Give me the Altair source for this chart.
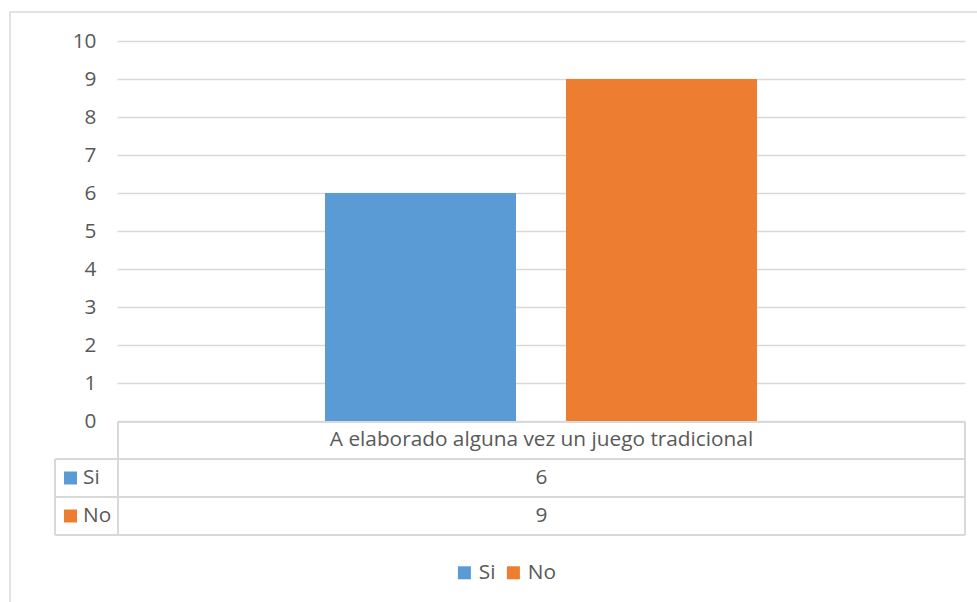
import altair as alt
import pandas as pd

series = ["Si", "No"]
values = [6, 9]
colors = ["#5B9BD5", "#ED7D31"]
category_label = "A elaborado alguna vez un juego tradicional"
y_ticks = list(range(0, 11))

df = pd.DataFrame({"serie": series, "valor": values})
one = pd.DataFrame({"k": [0]})

FONT = "Open Sans"
FS = 20.8
TXT = "#595959"
LINE = "#d9d9d9"
W, H = 848, 380

bars = alt.Chart(df).mark_bar().encode(
    x=alt.X("serie:N", sort=series,
            scale=alt.Scale(paddingInner=0.2075, paddingOuter=0.863), axis=None),
    y=alt.Y("valor:Q", scale=alt.Scale(domain=[0, 10], nice=False),
            axis=alt.Axis(values=y_ticks, grid=True, gridColor=LINE, gridWidth=1.5,
                          domain=False, ticks=False, labelPadding=21,
                          labelFontSize=FS, labelFont=FONT, labelColor=TXT, title=None)),
    color=alt.Color("serie:N", scale=alt.Scale(domain=series, range=colors),
                    legend=alt.Legend(orient="none", legendX=337, legendY=521,
                                      direction="horizontal", title=None,
                                      symbolType="square", symbolSize=169,
                                      symbolStrokeWidth=0, labelFont=FONT,
                                      labelFontSize=FS, labelColor=TXT,
                                      columnPadding=7, padding=0)),
)

layers = [bars]

def hrule(x1, x2, y):
    return alt.Chart(one).mark_rule(color=LINE, strokeWidth=2).encode(
        x=alt.value(x1), x2=alt.value(x2), y=alt.value(y))

def vrule(x, y1, y2):
    return alt.Chart(one).mark_rule(color=LINE, strokeWidth=2).encode(
        x=alt.value(x), y=alt.value(y1), y2=alt.value(y2))

layers += [
    hrule(1, W, H + 1),
    hrule(-62, W, 418),
    hrule(-62, W, 456),
    hrule(-62, W, 494),
    vrule(1, H + 1, 494),
    vrule(-62, 418, 494),
    vrule(W, H + 1, 494),
]

layers.append(
    alt.Chart(one).mark_text(font=FONT, fontSize=FS, color=TXT, align="center",
                             baseline="middle").encode(
        x=alt.value(W / 2 + 0.5), y=alt.value(399), text=alt.value(category_label))
)

row_y = [437, 475]
for s, c, ry in zip(series, colors, row_y):
    sub = alt.Chart(df).transform_filter(alt.datum.serie == s)
    layers.append(sub.mark_text(font=FONT, fontSize=FS, color=TXT, align="center",
                                baseline="middle").encode(
        x=alt.value(W / 2 + 0.5), y=alt.value(ry), text="valor:Q"))
    layers.append(sub.mark_text(font=FONT, fontSize=FS, color=TXT, align="left",
                                baseline="middle").encode(
        x=alt.value(-34), y=alt.value(ry), text="serie:N"))
    layers.append(sub.mark_square(size=169, color=c, opacity=1).encode(
        x=alt.value(-46.5), y=alt.value(ry)))

border = alt.Chart(one).mark_rect(fill=None, stroke=LINE, strokeWidth=1.5).encode(
    x=alt.value(-107), x2=alt.value(875), y=alt.value(-29), y2=alt.value(575))
layers.append(border)

chart = alt.layer(*layers).properties(
    width=W, height=H,
    autosize=alt.AutoSizeParams(type="none"),
    padding={"left": 117, "top": 41, "right": 12, "bottom": 181},
    background="white",
).configure_view(stroke=None)

chart.save("out.html", embed_options={"renderer": "svg", "actions": False})
